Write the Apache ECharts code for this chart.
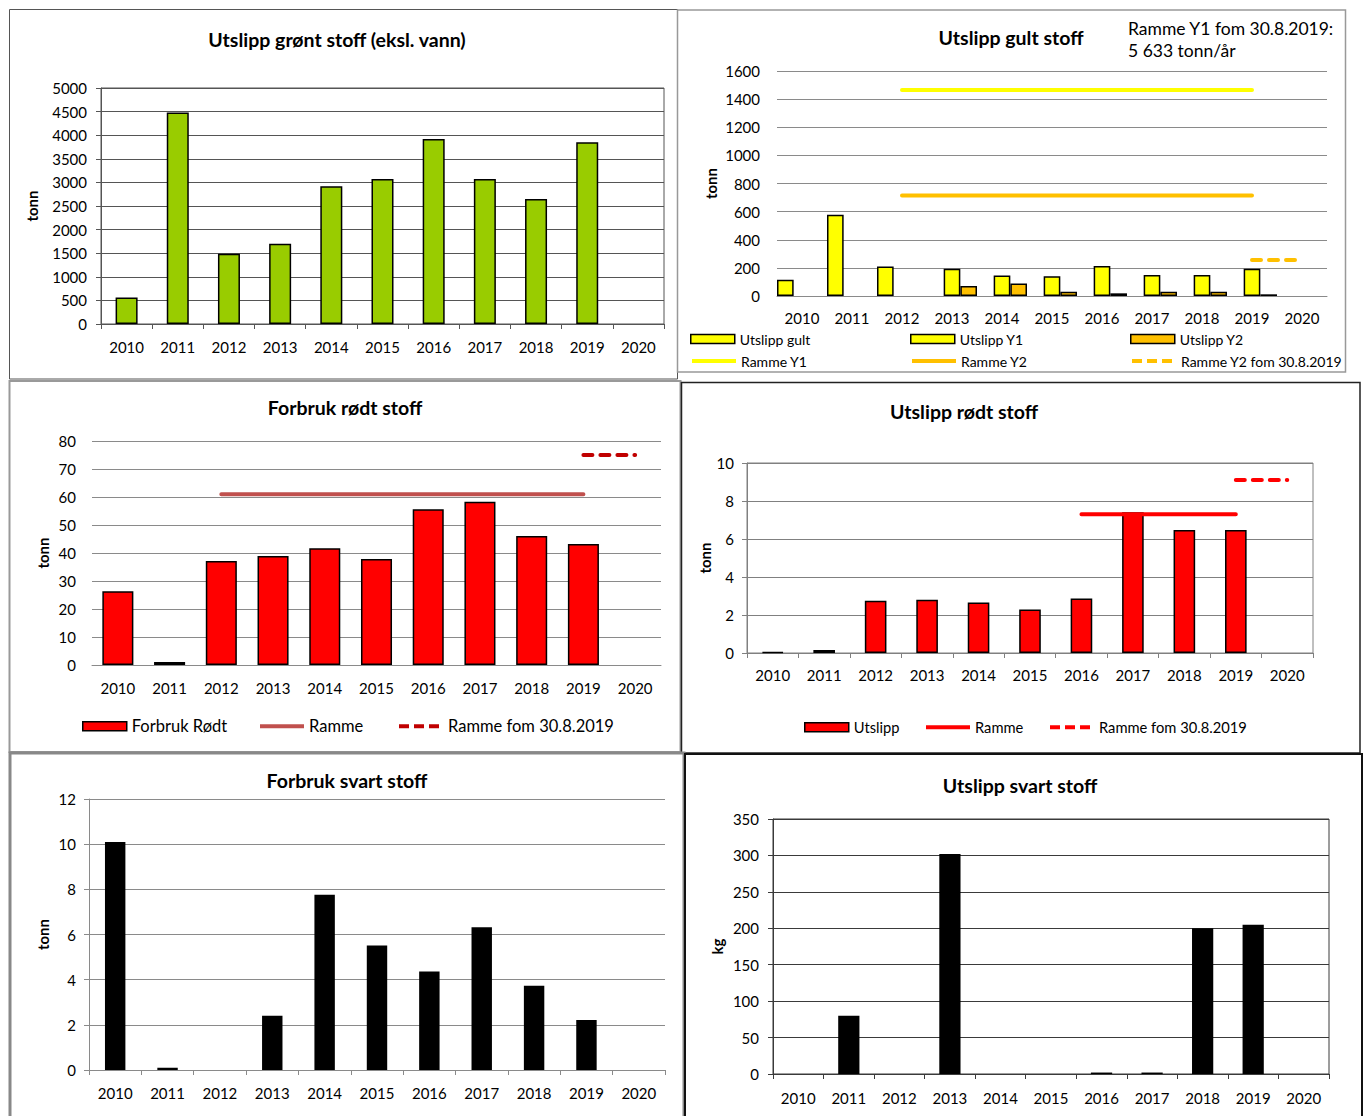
<!DOCTYPE html>
<html><head><meta charset="utf-8">
<script src="https://cdn.jsdelivr.net/npm/echarts/dist/echarts.min.js"></script>
<style>html,body{margin:0;padding:0;background:#fff}#c{width:1365px;height:1116px}</style>
</head><body><div id="c"></div>
<script>
// ---- data ----
const years = ['2010','2011','2012','2013','2014','2015','2016','2017','2018','2019','2020'];
const gronnUtslipp = [560, 4480, 1490, 1700, 2920, 3070, 3920, 3070, 2650, 3850, null];
const gultUtslipp = [116, 578, 210, null, null, null, null, null, null, null, null];
const gultY1 = [null, null, null, 193, 145, 140, 214, 149, 149, 193, null];
const gultY2 = [null, null, null, 72, 89, 31, 19, 31, 31, 12, null];
const gultRammeY1 = [null, null, 1465, 1465, 1465, 1465, 1465, 1465, 1465, 1465, null];
const gultRammeY2 = [null, null, 715, 715, 715, 715, 715, 715, 715, 715, null];
const gultRammeY2Ny = [null, null, null, null, null, null, null, null, null, 256, 256];
const rodtForbruk = [26.3, 1.1, 37.1, 38.9, 41.7, 37.9, 55.6, 58.3, 46.1, 43.2, null];
const rodtForbrukRamme = [null, null, 61, 61, 61, 61, 61, 61, 61, 61, null];
const rodtForbrukRammeNy = [null, null, null, null, null, null, null, null, null, 75, 75];
const rodtUtslipp = [0.05, 0.16, 2.75, 2.8, 2.66, 2.29, 2.87, 7.41, 6.48, 6.48, null];
const rodtUtslippRamme = [null, null, null, null, null, null, 7.3, 7.3, 7.3, 7.3, null];
const rodtUtslippRammeNy = [null, null, null, null, null, null, null, null, null, 9.1, 9.1];
const svartForbruk = [10.1, 0.1, null, 2.4, 7.76, 5.51, 4.36, 6.32, 3.73, 2.21, null];
const svartUtslipp = [null, 80, null, 302, null, null, 2, 2, 200, 205, null];

// ---- layout ----
const FONT = 'Lato, "Open Sans", sans-serif';
const grids = [
  {left: 101, top: 88, width: 563, height: 236},
  {left: 777, top: 71, width: 550, height: 225},
  {left: 92, top: 441, width: 569, height: 224},
  {left: 747, top: 463, width: 566, height: 190},
  {left: 89, top: 799, width: 576, height: 271},
  {left: 773, top: 819, width: 556, height: 255}
];
const gridBorder = [true, false, false, true, false, true];
const gridColor = ['#555', '#8a8a8a', '#8a8a8a', '#808080', '#8a8a8a', '#3a3a3a'];
const xTicks = [true, false, false, true, true, true];
const xMargin = [15, 14, 15, 14, 15, 16];
const yCfg = [
  {max: 5000, interval: 500, name: 'tonn', gap: 61.5, line: true, margin: 14},
  {max: 1600, interval: 200, name: 'tonn', gap: 58.5, line: false, margin: 17},
  {max: 80, interval: 10, name: 'tonn', gap: 41.5, line: false, margin: 16},
  {max: 10, interval: 2, name: 'tonn', gap: 30, line: true, margin: 13},
  {max: 12, interval: 2, name: 'tonn', gap: 38.5, line: true, margin: 13},
  {max: 350, interval: 50, name: 'kg', gap: 48.5, line: true, margin: 14}
];

const xAxes = grids.map((g, i) => ({
  type: 'category', gridIndex: i, data: years, boundaryGap: true,
  axisLine: {show: true, lineStyle: {color: gridColor[i], width: 1}},
  axisTick: {show: xTicks[i], alignWithLabel: false, interval: 0, length: 5, lineStyle: {color: gridColor[i]}},
  axisLabel: {interval: 0, fontSize: 15, color: '#000', margin: xMargin[i], fontFamily: FONT}
}));
const yAxes = yCfg.map((c, i) => ({
  type: 'value', gridIndex: i, min: 0, max: c.max, interval: c.interval,
  name: c.name, nameLocation: 'middle', nameGap: c.gap, nameRotate: 90,
  nameTextStyle: {fontWeight: 'bold', fontSize: 15, color: '#000', fontFamily: FONT},
  axisLine: {show: c.line, lineStyle: {color: gridColor[i], width: 1}},
  axisTick: {show: c.line, length: 5, lineStyle: {color: gridColor[i]}},
  axisLabel: {fontSize: 15, color: '#000', margin: c.margin, fontFamily: FONT, formatter: (v) => String(v)},
  splitLine: {show: true, lineStyle: {color: gridColor[i], width: 1}}
}));

const barStyle = (color) => ({color: color, borderColor: '#000', borderWidth: 1.5});
const DASH = [9, 8];
const lineSeries = (name, idx, data, color, dashed) => ({
  type: 'line', name: name, xAxisIndex: idx, yAxisIndex: idx, data: data,
  symbol: 'none', z: 5, silent: true,
  lineStyle: {color: color, width: 4, cap: 'round', type: dashed ? DASH : 'solid'},
  itemStyle: {color: color}
});

const series = [
  {type: 'bar', name: 'Utslipp grønt', xAxisIndex: 0, yAxisIndex: 0, data: gronnUtslipp, barWidth: '43%', itemStyle: barStyle('#99CC00')},
  {type: 'bar', name: 'Utslipp gult', xAxisIndex: 1, yAxisIndex: 1, data: gultUtslipp, barGap: '0%', barCategoryGap: '0%', itemStyle: barStyle('#FFFF00')},
  {type: 'bar', name: 'Utslipp Y1', xAxisIndex: 1, yAxisIndex: 1, data: gultY1, barGap: '0%', barCategoryGap: '0%', itemStyle: barStyle('#FFFF00')},
  {type: 'bar', name: 'Utslipp Y2', xAxisIndex: 1, yAxisIndex: 1, data: gultY2, barGap: '0%', barCategoryGap: '0%', itemStyle: barStyle('#FFC000')},
  lineSeries('Ramme Y1', 1, gultRammeY1, '#FFFF00', false),
  lineSeries('Ramme Y2', 1, gultRammeY2, '#FFC000', false),
  lineSeries('Ramme Y2 fom 30.8.2019', 1, gultRammeY2Ny, '#FFC000', true),
  {type: 'bar', name: 'Forbruk Rødt', xAxisIndex: 2, yAxisIndex: 2, data: rodtForbruk, barWidth: '60%', itemStyle: barStyle('#FF0000')},
  lineSeries('Ramme', 2, rodtForbrukRamme, '#C0504D', false),
  lineSeries('Ramme fom 30.8.2019', 2, rodtForbrukRammeNy, '#C00000', true),
  {type: 'bar', name: 'Utslipp', xAxisIndex: 3, yAxisIndex: 3, data: rodtUtslipp, barWidth: '42%', itemStyle: barStyle('#FF0000')},
  lineSeries('Ramme#4', 3, rodtUtslippRamme, '#FF0000', false),
  lineSeries('Ramme fom 30.8.2019#4', 3, rodtUtslippRammeNy, '#FF0000', true),
  {type: 'bar', name: 'Forbruk svart', xAxisIndex: 4, yAxisIndex: 4, data: svartForbruk, barWidth: '39%', itemStyle: {color: '#000'}},
  {type: 'bar', name: 'Utslipp svart', xAxisIndex: 5, yAxisIndex: 5, data: svartUtslipp, barWidth: '42%', itemStyle: {color: '#000'}}
];

const fmt = (n) => n.split('#')[0];
const barLegend = (name, x, y, fs) => ({
  data: [name], left: x, top: y - fs / 2, padding: 0, itemWidth: 44, itemHeight: 9, icon: 'rect',
  itemStyle: {borderColor: '#000', borderWidth: 1.5}, formatter: fmt, selectedMode: false,
  textStyle: {fontSize: fs, color: '#000', fontFamily: FONT}
});
const lineLegend = (name, x, y, fs, color, dashed) => ({
  data: [name], left: x, top: y - fs / 2, padding: 0, itemWidth: 44, itemHeight: fs, formatter: fmt, selectedMode: false,
  itemStyle: {color: 'rgba(0,0,0,0)', borderWidth: 0, opacity: 0},
  lineStyle: {color: color, width: 4, cap: 'butt', type: dashed ? [10, 5] : 'solid'},
  textStyle: {fontSize: fs, color: '#000', fontFamily: FONT}
});
const legends = [
  barLegend('Utslipp gult', 690, 339, 14),
  barLegend('Utslipp Y1', 910, 339, 14),
  barLegend('Utslipp Y2', 1130, 339, 14),
  lineLegend('Ramme Y1', 690, 361, 14, '#FFFF00', false),
  lineLegend('Ramme Y2', 910, 361, 14, '#FFC000', false),
  lineLegend('Ramme Y2 fom 30.8.2019', 1130, 361, 14, '#FFC000', true),
  barLegend('Forbruk Rødt', 82, 726, 16.5),
  lineLegend('Ramme', 258, 726, 16.5, '#C0504D', false),
  lineLegend('Ramme fom 30.8.2019', 397, 726, 16.5, '#C00000', true),
  barLegend('Utslipp', 804, 727, 14.7),
  lineLegend('Ramme#4', 924, 727, 14.7, '#FF0000', false),
  lineLegend('Ramme fom 30.8.2019#4', 1048, 727, 14.7, '#FF0000', true)
];

const titleItem = (text, x, y) => ({
  text: text, left: x, top: y - 11, textAlign: 'center', padding: 0,
  textStyle: {fontSize: 19.5, fontWeight: 'bold', color: '#000', fontFamily: FONT}
});
const titles = [
  titleItem('Utslipp grønt stoff (eksl. vann)', 337, 40),
  titleItem('Utslipp gult stoff', 1011, 38),
  titleItem('Forbruk rødt stoff', 345, 408),
  titleItem('Utslipp rødt stoff', 964, 412),
  titleItem('Forbruk svart stoff', 347, 781),
  titleItem('Utslipp svart stoff', 1020, 786)
];

const panel = (x, y, w, h, color, lw) => ({
  type: 'rect', silent: true, z: 0,
  shape: {x: x, y: y, width: w, height: h},
  style: {fill: 'none', stroke: color, lineWidth: lw}
});
const graphics = [
  panel(9.5, 9.5, 668, 369.5, '#555', 1),
  panel(677.5, 10, 668, 362, '#999', 1.5),
  panel(9.5, 381, 671, 371, '#999', 2),
  panel(681.5, 382.5, 678.5, 370.5, '#222', 1.5),
  panel(10, 753, 674, 380, '#888', 3),
  panel(685, 754, 677, 380, '#111', 2),
  {type: 'text', x: 1128, y: 28, silent: true,
   style: {text: 'Ramme Y1 fom 30.8.2019:', fill: '#000', font: '17.5px ' + FONT, textVerticalAlign: 'middle'}},
  {type: 'text', x: 1128, y: 50, silent: true,
   style: {text: '5 633 tonn/år', fill: '#000', font: '17.5px ' + FONT, textVerticalAlign: 'middle'}}
];

const chart = echarts.init(document.getElementById('c'), null, {renderer: 'svg'});
chart.setOption({
  animation: false,
  backgroundColor: '#fff',
  textStyle: {fontFamily: FONT},
  title: titles,
  legend: legends,
  grid: grids.map((g, i) => Object.assign({show: gridBorder[i], borderColor: gridColor[i], borderWidth: 1, containLabel: false, outerBoundsMode: 'none'}, g)),
  xAxis: xAxes,
  yAxis: yAxes,
  series: series,
  graphic: graphics
});
</script></body></html>
